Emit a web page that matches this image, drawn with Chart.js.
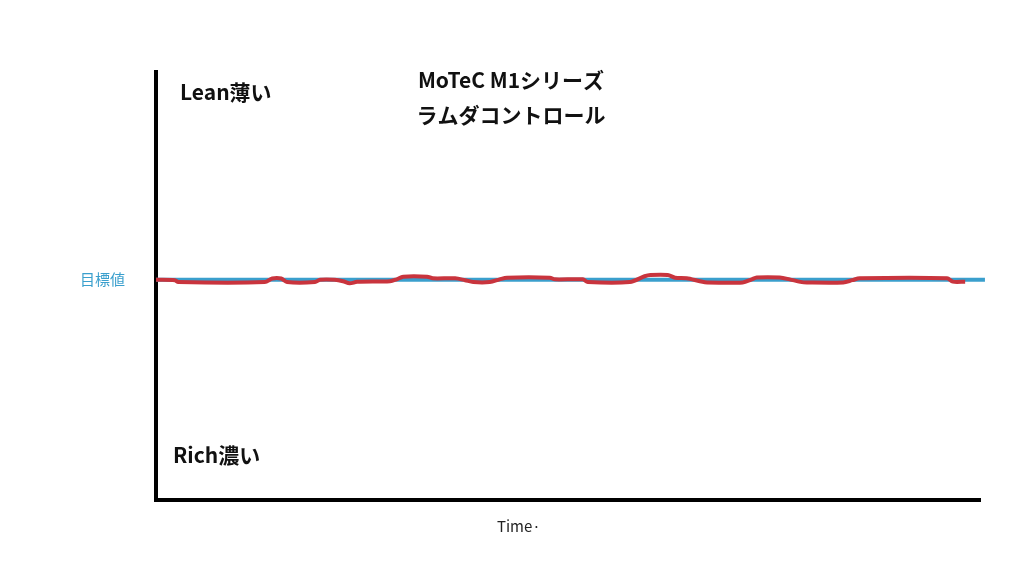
<!DOCTYPE html>
<html>
<head>
<meta charset="utf-8">
<script src="https://cdn.jsdelivr.net/npm/chart.js@4"></script>
<style>
  html, body { margin: 0; padding: 0; background: #fff; }
  #wrap { width: 1024px; height: 576px; }
</style>
</head>
<body>
<div id="wrap"><canvas id="lambdaChart"></canvas></div>
<script>
// target lambda (blue) and measured lambda (red), x = time 0..100, y = deviation from target
const targetX = [0, 100.6];
const targetY = [0, 0];

const lambdaX = [0, 2.3, 2.7, 13.2, 14.1, 15.2, 15.9, 19.3, 19.9, 21.7, 22.7, 23.5, 24.4, 28.4, 29.2, 30.0,
    32.9, 33.6, 36.3, 37.5, 38.5, 40.5, 41.7, 42.6, 47.8, 48.4, 51.8, 52.4, 57.5, 59.3, 60.0, 62.1,
    63.0, 64.4, 66.0, 66.9, 71.2, 72.3, 72.9, 75.7, 76.9, 78.2, 79.0, 83.4, 84.5, 85.4, 96.0, 96.7, 98.2];
const lambdaY = [0, -0.2, -1.1, -1.1, 0.6, 0.6, -1.1, -1.1, 0, 0, -0.7, -1.7, -1, -0.7, 0.2, 1.5,
    1.5, 0.7, 0.7, -0.2, -1.1, -1.1, 0.2, 1, 1, 0.2, 0.2, -1.1, -1.1, 1.7, 2.3, 2.3,
    1, 0.7, -0.7, -1.3, -1.3, 0.2, 1.1, 1.1, 0.2, -1, -1.3, -1.3, -0.2, 0.7, 0.7, -0.9, -0.9];

const titleLines = ["MoTeC M1シリーズ", "ラムダコントロール"];
const leanLabel = "Lean薄い";
const richLabel = "Rich濃い";
const targetLabel = "目標値";
const xLabel = "Time·";

const blue = "#3a9fcd";
const red = "#c9343d";

const toPoints = (xs, ys) => xs.map((x, i) => ({ x: x, y: ys[i] }));

// texts placed in the plot (title, lean / rich, time)
const textPlugin = {
    id: "texts",
    afterDraw(chart) {
        const ctx = chart.ctx;
        const area = chart.chartArea;
        ctx.save();
        ctx.fillStyle = "#111";
        ctx.textBaseline = "middle";
        ctx.font = "bold 21px 'Noto Sans CJK JP', sans-serif";
        ctx.textAlign = "center";
        ctx.fillText(titleLines[0], 511, 80);
        ctx.fillText(titleLines[1], 511, 115);
        ctx.textAlign = "left";
        ctx.fillText(leanLabel, area.left + 24, 92);
        ctx.fillText(richLabel, area.left + 17, 455);
        ctx.font = "15px 'Noto Sans CJK JP', sans-serif";
        ctx.fillStyle = "#222";
        ctx.fillText(xLabel, 497, 526);
        ctx.restore();
    },
};

new Chart(document.getElementById("lambdaChart"), {
    type: "line",
    data: {
        datasets: [
            {
                data: toPoints(targetX, targetY),
                borderColor: blue,
                borderWidth: 4,
                pointRadius: 0,
                clip: false,
                order: 2,
            },
            {
                data: toPoints(lambdaX, lambdaY),
                borderColor: red,
                borderWidth: 4,
                pointRadius: 0,
                tension: 0.3,
                order: 1,
            },
        ],
    },
    options: {
        responsive: true,
        maintainAspectRatio: false,
        animation: false,
        layout: { padding: { top: 72, right: 44, left: 0, bottom: 0 } },
        plugins: {
            legend: { display: false },
            tooltip: { enabled: false },
        },
        scales: {
            x: {
                type: "linear",
                min: 0,
                max: 100,
                grid: { display: false },
                border: { color: "#000", width: 4 },
                ticks: { display: false },
                afterFit: (s) => { s.height = 76; },
            },
            y: {
                min: -106,
                max: 100,
                grid: { display: false },
                border: { color: "#000", width: 4 },
                afterBuildTicks: (s) => { s.ticks = [{ value: 0 }]; },
                ticks: {
                    callback: () => targetLabel,
                    color: blue,
                    padding: 23,
                    font: { size: 15, family: "'Noto Sans CJK JP', sans-serif" },
                },
                afterFit: (s) => { s.width = 156; },
            },
        },
    },
    plugins: [textPlugin],
});
</script>
</body>
</html>
